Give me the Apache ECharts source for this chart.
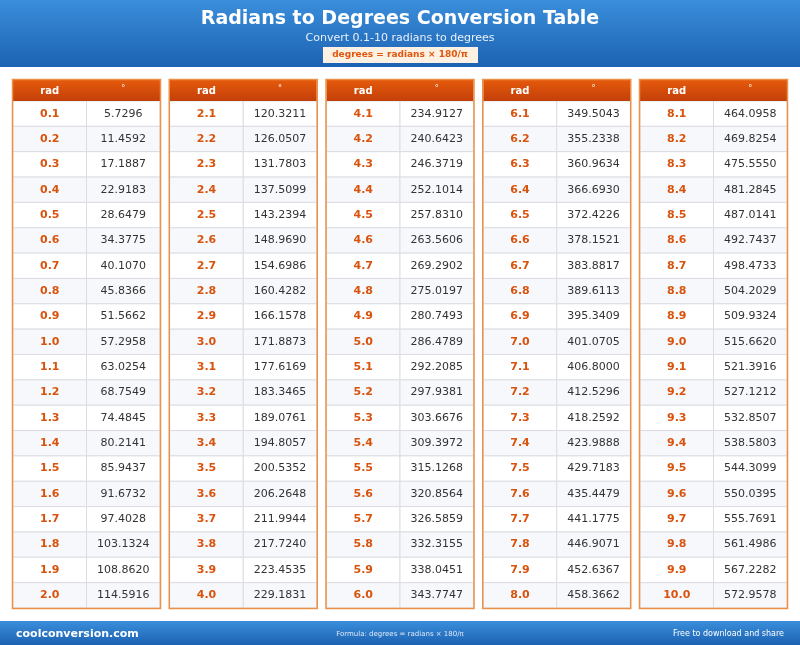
<!DOCTYPE html>
<html><head><meta charset="utf-8">
<script src="https://cdn.jsdelivr.net/npm/echarts@6/dist/echarts.min.js"></script>
<style>html,body{margin:0;padding:0;background:#fff}#c{width:800px;height:645px}</style>
</head><body><div id="c"></div>
<script>
var radians = [
 ['0.1','0.2','0.3','0.4','0.5','0.6','0.7','0.8','0.9','1.0','1.1','1.2','1.3','1.4','1.5','1.6','1.7','1.8','1.9','2.0'],
 ['2.1','2.2','2.3','2.4','2.5','2.6','2.7','2.8','2.9','3.0','3.1','3.2','3.3','3.4','3.5','3.6','3.7','3.8','3.9','4.0'],
 ['4.1','4.2','4.3','4.4','4.5','4.6','4.7','4.8','4.9','5.0','5.1','5.2','5.3','5.4','5.5','5.6','5.7','5.8','5.9','6.0'],
 ['6.1','6.2','6.3','6.4','6.5','6.6','6.7','6.8','6.9','7.0','7.1','7.2','7.3','7.4','7.5','7.6','7.7','7.8','7.9','8.0'],
 ['8.1','8.2','8.3','8.4','8.5','8.6','8.7','8.8','8.9','9.0','9.1','9.2','9.3','9.4','9.5','9.6','9.7','9.8','9.9','10.0']
];
var degrees = [
 ['5.7296','11.4592','17.1887','22.9183','28.6479','34.3775','40.1070','45.8366','51.5662','57.2958','63.0254','68.7549','74.4845','80.2141','85.9437','91.6732','97.4028','103.1324','108.8620','114.5916'],
 ['120.3211','126.0507','131.7803','137.5099','143.2394','148.9690','154.6986','160.4282','166.1578','171.8873','177.6169','183.3465','189.0761','194.8057','200.5352','206.2648','211.9944','217.7240','223.4535','229.1831'],
 ['234.9127','240.6423','246.3719','252.1014','257.8310','263.5606','269.2902','275.0197','280.7493','286.4789','292.2085','297.9381','303.6676','309.3972','315.1268','320.8564','326.5859','332.3155','338.0451','343.7747'],
 ['349.5043','355.2338','360.9634','366.6930','372.4226','378.1521','383.8817','389.6113','395.3409','401.0705','406.8000','412.5296','418.2592','423.9888','429.7183','435.4479','441.1775','446.9071','452.6367','458.3662'],
 ['464.0958','469.8254','475.5550','481.2845','487.0141','492.7437','498.4733','504.2029','509.9324','515.6620','521.3916','527.1212','532.8507','538.5803','544.3099','550.0395','555.7691','561.4986','567.2282','572.9578']
];
var columnHeaders = ['rad', '°'];
var title = 'Radians to Degrees Conversion Table';
var subtitle = 'Convert 0.1-10 radians to degrees';
var formula = 'degrees = radians × 180/π';

var FONT = 'DejaVu Sans';
var chart = echarts.init(document.getElementById('c'), null, {renderer:'canvas'});
var grids=[], xAxes=[], yAxes=[], series=[];
var rowsIdx = radians[0].map(function(_,i){return String(i);});
var GL = 13, GW = 147, GS = 156.75, GT = 101, GH = 507;
function makeRender(texts){
  return function(params, api){
    var col=api.value(0), row=api.value(1);
    var c=api.coord([col,row]); var s=api.size([1,1]);
    var txt = texts[params.dataIndex];
    return {type:'group', children:[
      {type:'rect', shape:{x:c[0]-s[0]/2, y:c[1]-s[1]/2, width:s[0], height:s[1]},
       style:{fill: row%2? '#f6f8fc':'#ffffff', stroke:'#dcdde3', lineWidth:1}},
      {type:'text', style:{x:c[0], y:c[1], text:txt, align:'center', verticalAlign:'middle',
        fill: col===0? '#d9530c':'#333333', font:(col===0?'bold ':'')+'11px '+FONT}}
    ]};
  };
}
for (var g=0; g<5; g++){
  grids.push({left:GL+g*GS, top:GT, width:GW, height:GH, show:false});
  xAxes.push({type:'category', gridIndex:g, data:columnHeaders, position:'top', show:false, boundaryGap:true});
  yAxes.push({type:'category', gridIndex:g, data:rowsIdx, inverse:true, show:false, boundaryGap:true});
  var data=[], texts=[];
  for (var r=0;r<radians[g].length;r++){
    data.push([0, r]); texts.push(radians[g][r]);
    data.push([1, r]); texts.push(degrees[g][r]);
  }
  series.push({
    type:'custom', xAxisIndex:g, yAxisIndex:g, data:data, silent:true,
    encode:{x:0,y:1}, renderItem:makeRender(texts)
  });
}
var graphic=[
 {type:'rect', shape:{x:0,y:0,width:800,height:67}, style:{fill:new echarts.graphic.LinearGradient(0,0,0,1,[{offset:0,color:'#3a8edb'},{offset:1,color:'#1c62b2'}])}, z:0},
 {type:'text', style:{x:400,y:19,text:title,align:'center',verticalAlign:'middle',fill:'#fff',font:'bold 19px '+FONT}},
 {type:'text', style:{x:400,y:38,text:subtitle,align:'center',verticalAlign:'middle',fill:'#e8f0fa',font:'11px '+FONT}},
 {type:'rect', shape:{x:323,y:47,width:155,height:16}, style:{fill:'#fdf1e3'}},
 {type:'text', style:{x:400,y:55,text:formula,align:'center',verticalAlign:'middle',fill:'#e0560c',font:'bold 9px '+FONT}},
 {type:'rect', shape:{x:0,y:621,width:800,height:24}, style:{fill:new echarts.graphic.LinearGradient(0,0,0,1,[{offset:0,color:'#3a8edb'},{offset:1,color:'#1c62b2'}])}},
 {type:'text', style:{x:16,y:634,text:'coolconversion.com',verticalAlign:'middle',fill:'#fff',font:'bold 11px '+FONT}},
 {type:'text', style:{x:400,y:634,text:'Formula: degrees = radians × 180/π',align:'center',verticalAlign:'middle',fill:'#dfe9f6',font:'7px '+FONT}},
 {type:'text', style:{x:784,y:634,text:'Free to download and share',align:'right',verticalAlign:'middle',fill:'#fff',font:'8px '+FONT}}
];
for (var g2=0; g2<5; g2++){
  var x0=GL+g2*GS;
  graphic.push({type:'rect', shape:{x:x0,y:80,width:GW,height:21}, style:{fill:new echarts.graphic.LinearGradient(0,0,0,1,[{offset:0,color:'#e4590b'},{offset:1,color:'#c4400a'}])}, z:10});
  graphic.push({type:'text', style:{x:x0+GW/4,y:91,text:columnHeaders[0],align:'center',verticalAlign:'middle',fill:'#fff',font:'bold 10px '+FONT}, z:11});
  graphic.push({type:'text', style:{x:x0+GW*3/4,y:89,text:columnHeaders[1],align:'center',verticalAlign:'middle',fill:'#fff',font:'8px '+FONT}, z:11});
  graphic.push({type:'rect', shape:{x:x0-0.5,y:79.5,width:GW+1,height:GH+22}, style:{fill:'none',stroke:'#ec9148',lineWidth:1.5}, z:12});
}
chart.setOption({animation:false, grid:grids, xAxis:xAxes, yAxis:yAxes, series:series, graphic:graphic});
</script></body></html>
